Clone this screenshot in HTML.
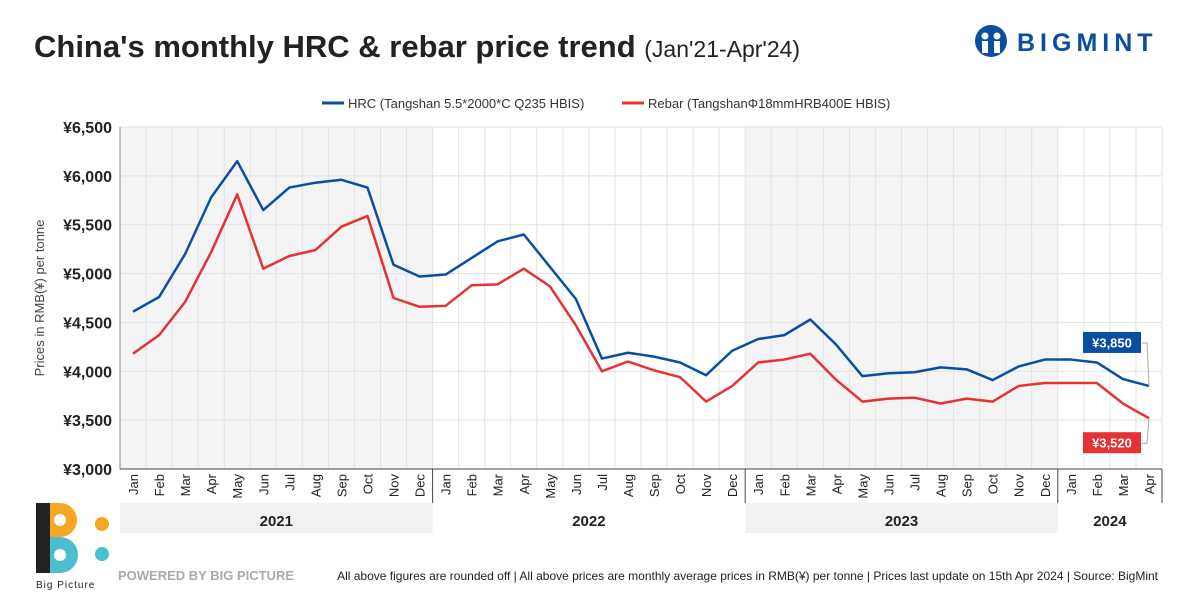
<!DOCTYPE html>
<html><head><meta charset="utf-8"><style>
body{margin:0;width:1200px;height:600px;background:#fff;font-family:"Liberation Sans",sans-serif;overflow:hidden}
</style></head><body>
<svg width="1200" height="600" xmlns="http://www.w3.org/2000/svg" id="svg">
<text x="34" y="57" font-size="31" font-weight="bold" fill="#222">China's monthly HRC &amp; rebar price trend <tspan font-size="23" font-weight="normal">(Jan'21-Apr'24)</tspan></text>
<g>
<circle cx="991" cy="41" r="16" fill="#0a4ea2"/>
<circle cx="985" cy="36" r="3.5" fill="#fff"/><circle cx="997" cy="36" r="3.5" fill="#fff"/>
<rect x="982" y="41" width="6" height="12" fill="#fff"/><rect x="994" y="41" width="6" height="12" fill="#fff"/>
<text x="1017" y="51" font-size="25" font-weight="bold" fill="#0a4ea2" letter-spacing="5">BIGMINT</text>
</g>
<g font-size="13" fill="#333">
<line x1="322" y1="103" x2="344" y2="103" stroke="#0a4ea2" stroke-width="3"/>
<text x="348" y="108">HRC (Tangshan 5.5*2000*C Q235 HBIS)</text>
<line x1="622" y1="103" x2="644" y2="103" stroke="#e53232" stroke-width="3"/>
<text x="648" y="108">Rebar (TangshanΦ18mmHRB400E HBIS)</text>
</g>
<g id="bg"></g><g id="grid"></g><g id="axes"></g><g id="lines"></g>
<text transform="translate(44,298) rotate(-90)" text-anchor="middle" font-size="13" fill="#444">Prices in RMB(¥) per tonne</text>
<g>
<rect x="36" y="503" width="14" height="70" fill="#222"/>
<path d="M50 503 h10 a17 17 0 0 1 0 34 h-10z" fill="#f5a623"/>
<path d="M50 537 h10 a18 18 0 0 1 0 36 h-10z" fill="#4bbfcf"/>
<circle cx="60" cy="520" r="6" fill="#fff"/><circle cx="60" cy="555" r="6" fill="#fff"/>
<circle cx="102" cy="524" r="7" fill="#f5a623"/><circle cx="102" cy="554" r="7" fill="#4bbfcf"/>
<text x="36" y="588" font-size="10" fill="#222" letter-spacing="1">Big Picture</text>
<text x="118" y="580" font-size="13" font-weight="bold" fill="#aaa">POWERED BY BIG PICTURE</text>
</g>
<text x="1158" y="580" text-anchor="end" font-size="12" fill="#222">All above figures are rounded off | All above prices are monthly average prices in RMB(¥) per tonne | Prices last update on 15th Apr 2024 | Source: BigMint</text>
</svg>
<script>
const months=["Jan","Feb","Mar","Apr","May","Jun","Jul","Aug","Sep","Oct","Nov","Dec","Jan","Feb","Mar","Apr","May","Jun","Jul","Aug","Sep","Oct","Nov","Dec","Jan","Feb","Mar","Apr","May","Jun","Jul","Aug","Sep","Oct","Nov","Dec","Jan","Feb","Mar","Apr"];
const years=["2021","2022","2023","2024"];
const hrc=[4610,4760,5200,5780,6150,5650,5880,5930,5960,5880,5090,4970,4990,5160,5330,5400,5070,4740,4130,4190,4150,4090,3960,4210,4330,4370,4530,4270,3950,3980,3990,4040,4020,3910,4050,4120,4120,4090,3920,3850];
const rebar=[4180,4370,4710,5220,5810,5050,5180,5240,5480,5590,4750,4660,4670,4880,4890,5050,4870,4470,4000,4100,4010,3940,3690,3850,4090,4120,4180,3910,3690,3720,3730,3670,3720,3690,3850,3880,3880,3880,3670,3520];
const yTicks=[3000,3500,4000,4500,5000,5500,6000,6500];
const L=120,R=1162,T=127,B=469,ymin=3000,ymax=6500;
const cw=(R-L)/months.length;
const X=i=>L+cw*(i+0.5);
const Y=v=>B-(v-ymin)/(ymax-ymin)*(B-T);
const NS="http://www.w3.org/2000/svg";
function mk(p,t,a){const e=document.createElementNS(NS,t);for(const k in a)e.setAttribute(k,a[k]);document.getElementById(p).appendChild(e);return e;}
const fmt=v=>"¥"+v.toLocaleString("en-US");
years.forEach((yr,k)=>{const s=k*12,n=Math.min(12,months.length-s);
 if(k%2===0){let r=mk("bg","rect",{x:L+s*cw,y:T,width:n*cw,height:B-T,fill:"#f4f4f4"});
 
 
 let b=mk("bg","rect",{x:L+s*cw,y:503,width:n*cw,height:30,fill:"#f2f2f2"});
 
 }
 let t=mk("axes","text",{x:L+(s+n/2)*cw,y:526,"text-anchor":"middle","font-size":15,"font-weight":"bold",fill:"#222"});t.textContent=yr;
 
 
 if(k>0){mk("axes","line",{x1:L+s*cw,y1:B,x2:L+s*cw,y2:503,stroke:"#444"});}
});
for(let i=0;i<=months.length;i++){mk("grid","line",{x1:L+i*cw,y1:T,x2:L+i*cw,y2:B,stroke:"#e2e2e2"});}
yTicks.forEach(v=>{let l=mk("grid","line",{x1:L,y1:Y(v),x2:R,y2:Y(v),stroke:"#e2e2e2"});
 
 
 let t=mk("axes","text",{x:112,y:Y(v)+6,"text-anchor":"end","font-size":16,"font-weight":"bold",fill:"#222"});t.textContent=fmt(v);
 
 });
mk("axes","line",{x1:L,y1:T,x2:L,y2:B,stroke:"#888"});
mk("axes","line",{x1:L,y1:B,x2:R,y2:B,stroke:"#444"});
mk("axes","line",{x1:R,y1:B,x2:R,y2:503,stroke:"#444"});
months.forEach((m,i)=>{let t=mk("axes","text",{transform:`translate(${X(i)+5},${B+5}) rotate(-90)`,"text-anchor":"end","font-size":13,fill:"#222"});t.textContent=m;
 
 });
[[hrc,"#0a4ea2","hrc-line"],[rebar,"#e53232","rebar-line"]].forEach(([d,c,n])=>{
 let p=mk("lines","polyline",{points:d.map((v,i)=>X(i)+","+Y(v)).join(" "),fill:"none",stroke:c,"stroke-width":2.5,"stroke-linejoin":"round"});
 
 });
const li=months.length-1;
[[hrc[li],"#0a4ea2",Y(hrc[li])-54,"hrc-last-label"],[rebar[li],"#e53232",Y(rebar[li])+14,"rebar-last-label"]].forEach(([v,c,by,n])=>{
 mk("lines","polyline",{points:`1142,${by+11} 1147,${by+11} ${X(li)},${Y(v)}`,fill:"none",stroke:"#aaa"});
 let r=mk("lines","rect",{x:1083,y:by,width:58,height:21,fill:c});
 
 
 let t=mk("lines","text",{x:1112,y:by+15.5,"text-anchor":"middle","font-size":13,"font-weight":"bold",fill:"#fff"});t.textContent=fmt(v);
 
 });
</script>
</body></html>
